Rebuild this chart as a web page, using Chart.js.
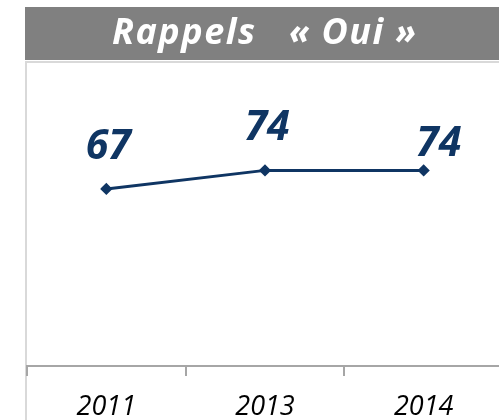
<!DOCTYPE html>
<html>
<head>
<meta charset="utf-8">
<script src="https://cdn.jsdelivr.net/npm/chart.js@4/dist/chart.umd.min.js"></script>
<style>
  html, body { margin: 0; padding: 0; background: #fff; overflow: hidden; width: 499px; height: 420px; }
  canvas { display: block; }
</style>
</head>
<body>
<canvas id="chart" width="510" height="420"></canvas>
<script>
// Chart data
const years = ['2011', '2013', '2014'];
const ouiValues = [67, 74, 74];
const titleParts = ['Rappels', '« Oui »'];

const navy = '#0f3563';

// Title bar and left/top frame drawn behind the chart
const framePlugin = {
    id: 'frame',
    beforeDraw(chart) {
        const ctx = chart.ctx;
        ctx.save();
        ctx.fillStyle = '#808080';
        ctx.fillRect(25, 7, 490, 53);
        ctx.fillStyle = '#ffffff';
        ctx.font = 'italic bold 36px "Open Sans"';
        ctx.letterSpacing = '1.5px';
        ctx.textAlign = 'left';
        ctx.textBaseline = 'alphabetic';
        ctx.fillText(titleParts[0], 112, 44);
        ctx.fillText(titleParts[1], 289, 44);
        ctx.letterSpacing = '0px';
        ctx.fillStyle = '#d9d9d9';
        ctx.fillRect(25, 61, 490, 2);
        ctx.fillRect(25, 61, 2, 359);
        ctx.restore();
    }
};

// Value labels above the points (offsets as in the original)
const labelPlugin = {
    id: 'valueLabels',
    afterDatasetsDraw(chart) {
        const ctx = chart.ctx;
        const offsets = [[2, -42], [2, -42], [15, -26]];
        const meta = chart.getDatasetMeta(0);
        ctx.save();
        ctx.fillStyle = navy;
        ctx.font = 'italic bold 41px "Open Sans"';
        ctx.textAlign = 'center';
        ctx.textBaseline = 'middle';
        meta.data.forEach((pt, i) => {
            ctx.fillText(ouiValues[i], pt.x + offsets[i][0], pt.y + offsets[i][1]);
        });
        ctx.restore();
    }
};

new Chart(document.getElementById('chart'), {
    type: 'line',
    data: {
        labels: years,
        datasets: [{
            data: ouiValues,
            borderColor: navy,
            backgroundColor: navy,
            borderWidth: 3,
            pointStyle: 'rectRot',
            pointRadius: 4,
            tension: 0
        }]
    },
    options: {
        responsive: false,
        animation: false,
        layout: {
            padding: { left: 27, top: 62, right: 0, bottom: 0 }
        },
        plugins: {
            legend: { display: false },
            tooltip: { enabled: false },
            title: { display: false }
        },
        scales: {
            x: {
                offset: true,
                afterFit(scale) { scale.height = 54; },
                grid: {
                    offset: true,
                    drawOnChartArea: false,
                    tickLength: 10,
                    color: '#a6a6a6',
                    lineWidth: 2
                },
                border: { color: '#a6a6a6', width: 2 },
                ticks: {
                    color: '#000',
                    padding: 18,
                    font: { family: 'Open Sans', size: 27, style: 'italic', lineHeight: 1.0 }
                }
            },
            y: {
                display: false,
                min: 0,
                max: 115
            }
        }
    },
    plugins: [framePlugin, labelPlugin]
});
</script>
</body>
</html>
